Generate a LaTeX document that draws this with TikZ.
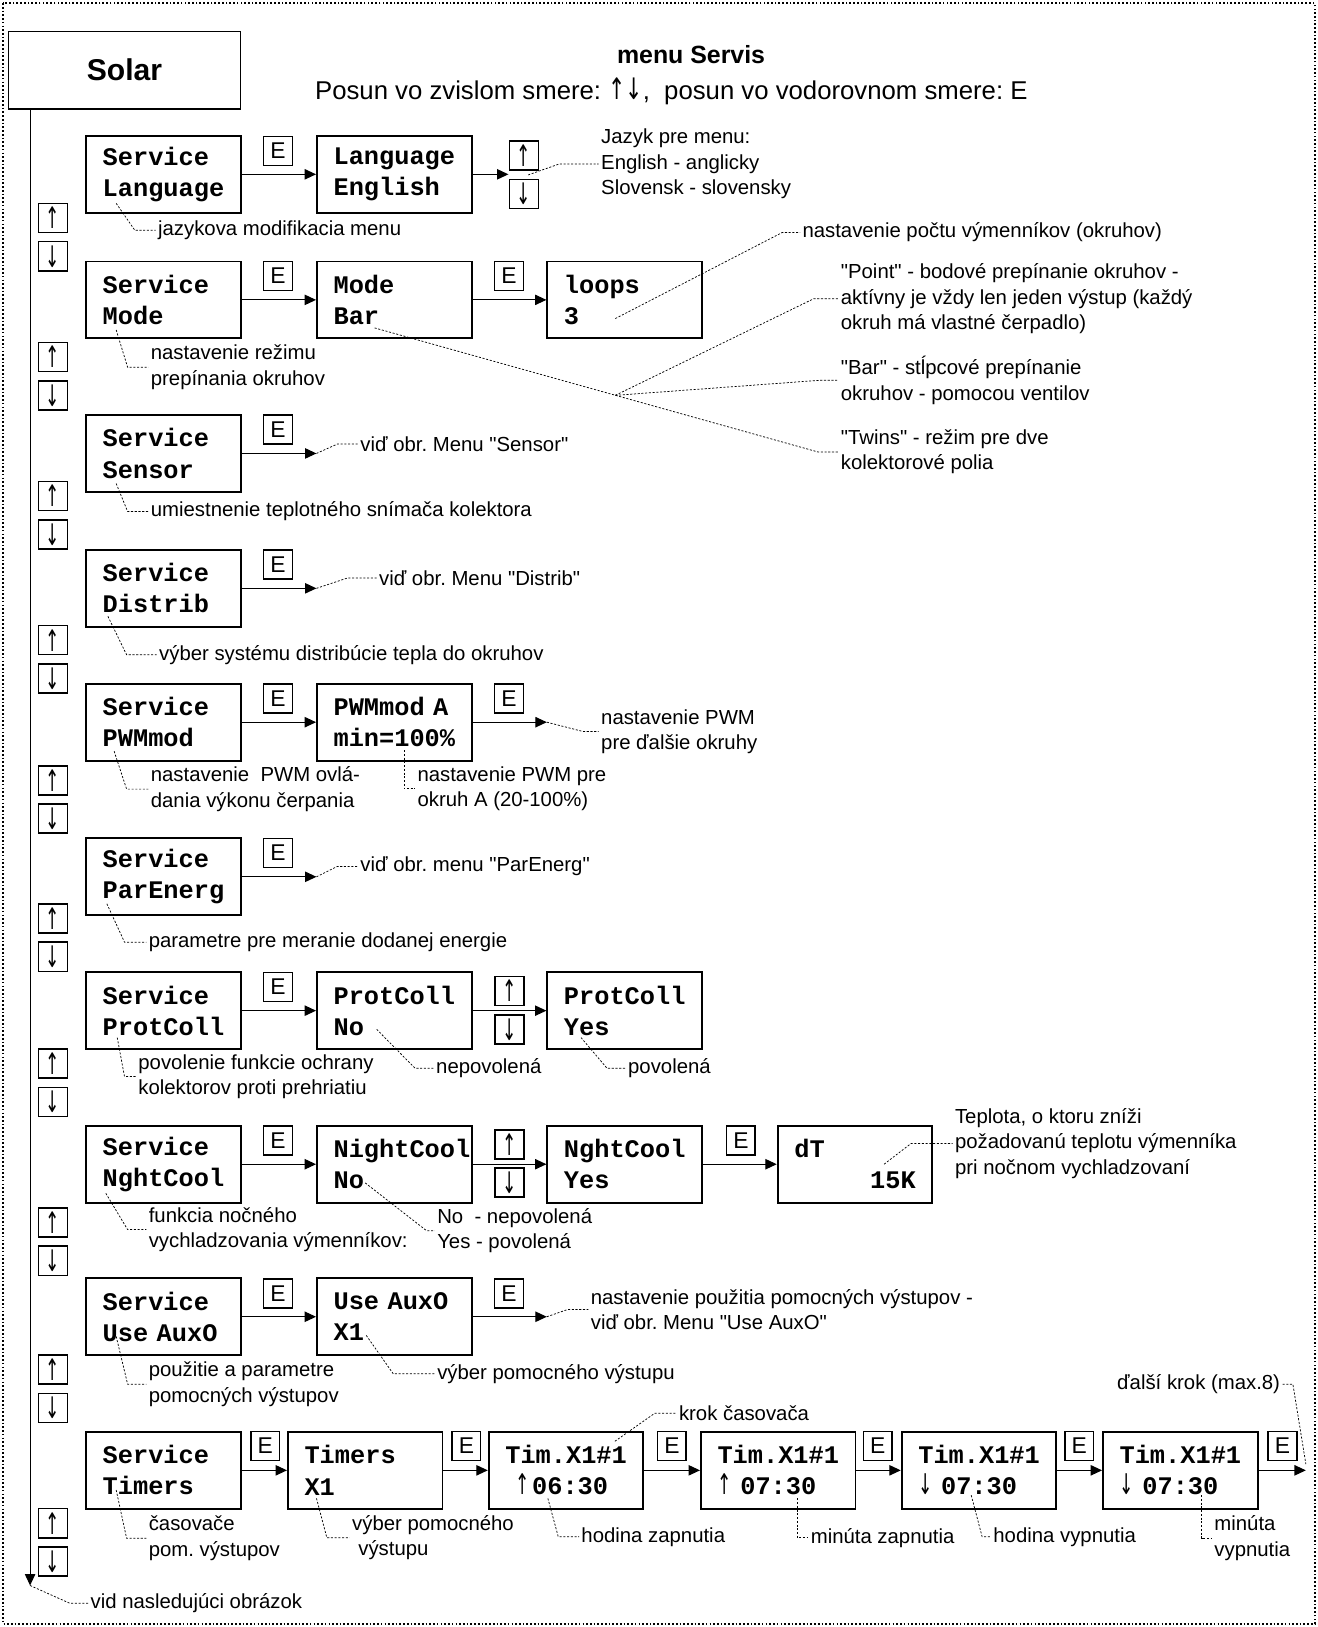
\documentclass[tikz,border=0pt]{standalone}
\usepackage{graphicx}
\usepackage{fontspec}
\setmainfont{Liberation Sans}[Ligatures=TeXOff]
\newfontfamily\lcdfamily{Liberation Mono}
\newfontfamily\arrowfamily{DejaVu Sans}
\usetikzlibrary{arrows.meta}
\frenchspacing

\newcommand{\notefont}{\fontsize{9.8}{12.25}\selectfont}
\newcommand{\lcdfont}{\lcdfamily\bfseries\fontsize{12.2}{15}\selectfont}
\newcommand{\keyup}{{\arrowfamily\scalebox{0.75}[1.3]{↑}}}
\newcommand{\keydown}{{\arrowfamily\scalebox{0.75}[1.3]{↓}}}
\newcommand{\tmup}{{\arrowfamily\mdseries\fontsize{11}{15}\selectfont\scalebox{0.75}[1.25]{↑}}}
\newcommand{\tmdown}{{\arrowfamily\mdseries\fontsize{11}{15}\selectfont\scalebox{0.75}[1.25]{↓}}}

\tikzset{
  menubox/.style={draw, line width=0.9pt, minimum width=74.5pt, minimum height=37pt,
    text width=58.5pt, inner xsep=8pt, inner ysep=0pt, align=left, font=\lcdfont},
  keybox/.style={draw, line width=0.7pt, minimum width=13.8pt, minimum height=14pt,
    inner sep=0pt, font=\fontsize{11}{11}\selectfont},
  note/.style={anchor=west, align=left, inner sep=1pt, font=\notefont},
  lead/.style={line width=0.35pt, dash pattern=on 1pt off 0.8pt},
  flow/.style={line width=0.55pt, -{Triangle[length=5.5pt,width=5pt]}},
}

\begin{document}
\begin{tikzpicture}[x=0.5pt,y=-0.5pt]
\useasboundingbox (0,0) rectangle (1270,1568);
\draw[densely dotted, line width=0.8pt] (3,3) rectangle (1267,1565);

% header
\node[draw, line width=0.6pt, minimum width=112pt, minimum height=37.5pt,
  font=\bfseries\fontsize{14.5}{17}\selectfont] (solar) at (120,67.5) {Solar};
\node[font=\bfseries\fontsize{12}{14}\selectfont] (title) at (666,53) {menu Servis};
\node[font=\fontsize{12.4}{14}\selectfont] (hint) at (647,88)
  {Posun vo zvislom smere: {\arrowfamily\scalebox{0.8}[1.15]{↑↓}},\ \ posun vo vodorovnom smere: E};

% spine
\coordinate (spine) at (29,1528);
\draw[flow] (solar.south -| spine) -- (spine);
\foreach \y [count=\i] in {210,344,478,617,752,885,1025,1178,1320,1468} {
  \node[keybox] (up\i) at (51,\y) {\keyup};
  \node[keybox] (dn\i) at (51,\y+37) {\keydown};
}
\node[note] (follow) at (85,1545) {vid nasledujúci obrázok};
\draw[lead] (spine) -- ([xshift=-9pt]follow.west) -- (follow.west);

% Language
\node[menubox] (lang) at (157.5,168) {Service\\Language};
\node[menubox] (langval) at (380,168) {Language\\English};
\node[keybox] (langE) at (268,145.5) {E};
\node[keybox] (langup) at (505,150) {\keyup};
\node[keybox] (langdn) at (505,187) {\keydown};
\coordinate (langend) at (490,168);
\draw[flow] (lang) -- (langval);
\draw[flow] (langval) -- (langend);
\node[note] (langnote) at (150,222) {jazykova modifikacia menu};
\coordinate (langp) at (112,196);
\draw[lead] (langp) -- ([xshift=-10pt]langnote.west) -- (langnote.west);
\node[note] (langlist) at (577,158) {Jazyk pre menu:\\English - anglicky\\Slovensk - slovensky};
\coordinate (langq) at (509,168.6);
\draw[lead] (langq) -- ([xshift=-19pt]langlist.west) -- (langlist.west);

% Mode
\node[menubox] (mode) at (157.5,289) {Service\\Mode};
\node[menubox] (modeval) at (380,289) {Mode\\Bar};
\node[menubox] (loops) at (602,289) {loops\\3};
\node[keybox] (modeE) at (268,266) {E};
\node[keybox] (modeE2) at (490.5,266) {E};
\draw[flow] (mode) -- (modeval);
\draw[flow] (modeval) -- (loops);
\node[note] (modenote) at (143,354) {nastavenie režimu\\prepínania okruhov};
\coordinate (modep) at (112,318);
\draw[lead] (modep) -- ([xshift=-10pt]modenote.west) -- (modenote.west);
\node[note] (loopsnote) at (771,224) {nastavenie počtu výmenníkov (okruhov)};
\coordinate (loopsp) at (593,307);
\draw[lead] (loopsp) -- ([xshift=-8.5pt]loopsnote.west) -- (loopsnote.west);
\node[note] (pointnote) at (808,288) {"Point" - bodové prepínanie okruhov -\\aktívny je vždy len jeden výstup (každý\\okruh má vlastné čerpadlo)};
\node[note] (barnote) at (808,366.5) {"Bar" - stĺpcové prepínanie\\okruhov - pomocou ventilov};
\node[note] (twinsnote) at (808,435.5) {"Twins" - režim pre dve\\kolektorové polia};
\coordinate (barp) at (361,316);
\coordinate (fan) at (593,381);
\draw[lead] (barp) -- ([xshift=-10pt]twinsnote.west) -- (twinsnote.west);
\draw[lead] (fan) -- ([xshift=-12pt]pointnote.west) -- (pointnote.west);
\draw[lead] (fan) -- ([xshift=-9pt]barnote.west) -- (barnote.west);

% Sensor
\node[menubox] (sensor) at (157.5,437) {Service\\Sensor};
\node[keybox] (sensorE) at (268,414) {E};
\coordinate (sensorend) at (305,437);
\draw[flow] (sensor) -- (sensorend);
\node[note] (sensorref) at (345,428) {viď obr. Menu "Sensor"};
\draw[lead] (sensorend) -- ([xshift=-10pt]sensorref.west) -- (sensorref.west);
\node[note] (sensornote) at (143,493) {umiestnenie teplotného snímača kolektora};
\coordinate (sensorp) at (112,466);
\draw[lead] (sensorp) -- ([xshift=-10pt]sensornote.west) -- (sensornote.west);

% Distrib
\node[menubox] (distrib) at (157.5,567) {Service\\Distrib};
\node[keybox] (distribE) at (268,544) {E};
\coordinate (distribend) at (305,567);
\draw[flow] (distrib) -- (distribend);
\node[note] (distribref) at (363,557) {viď obr. Menu "Distrib"};
\draw[lead] (distribend) -- ([xshift=-14pt]distribref.west) -- (distribref.west);
\node[note] (distribnote) at (151,631) {výber systému distribúcie tepla do okruhov};
\coordinate (distribp) at (104,594);
\draw[lead] (distribp) -- ([xshift=-14.5pt]distribnote.west) -- (distribnote.west);

% PWMmod
\node[menubox] (pwm) at (157.5,696) {Service\\PWMmod};
\node[menubox] (pwmval) at (380,696) {PWMmod A\\min=100\%};
\node[keybox] (pwmE) at (268,673) {E};
\node[keybox] (pwmE2) at (490.5,673) {E};
\coordinate (pwmend) at (527,696);
\draw[flow] (pwm) -- (pwmval);
\draw[flow] (pwmval) -- (pwmend);
\node[note] (pwmnext) at (577,705) {nastavenie PWM\\pre ďalšie okruhy};
\draw[lead] (pwmend) -- ([xshift=-7.5pt]pwmnext.west) -- (pwmnext.west);
\node[note] (pwmnote) at (143,760.5) {nastavenie\ \ PWM ovlá-\\dania výkonu čerpania};
\coordinate (pwmp) at (110,724);
\draw[lead] (pwmp) -- ([xshift=-10.5pt]pwmnote.west) -- (pwmnote.west);
\node[note] (pwmvalnote) at (400,760) {nastavenie PWM pre\\okruh A (20-100\%)};
\coordinate (pwmvalp) at (389.5,723);
\draw[lead] (pwmvalp) -- ([xshift=-5.25pt]pwmvalnote.west) -- (pwmvalnote.west);

% ParEnerg
\node[menubox] (parenerg) at (157.5,845) {Service\\ParEnerg};
\node[keybox] (parenergE) at (268,822) {E};
\coordinate (parenergend) at (305,845);
\draw[flow] (parenerg) -- (parenergend);
\node[note] (parenergref) at (345,835) {viď obr. menu "ParEnerg"};
\draw[lead] (parenergend) -- ([xshift=-10pt]parenergref.west) -- (parenergref.west);
\node[note] (parenergnote) at (141,908) {parametre pre meranie dodanej energie};
\coordinate (parenergp) at (103,871);
\draw[lead] (parenergp) -- ([xshift=-10.5pt]parenergnote.west) -- (parenergnote.west);

% ProtColl
\node[menubox] (prot) at (157.5,974) {Service\\ProtColl};
\node[menubox] (protno) at (380,974) {ProtColl\\No};
\node[menubox] (protyes) at (602,974) {ProtColl\\Yes};
\node[keybox] (protE) at (268,951) {E};
\node[keybox] (protup) at (491,955) {\keyup};
\node[keybox] (protdn) at (491,992) {\keydown};
\draw[flow] (prot) -- (protno);
\draw[flow] (protno) -- (protyes);
\node[note] (protnote) at (131,1037.5) {povolenie funkcie ochrany\\kolektorov proti prehriatiu};
\coordinate (protp) at (113,1000);
\draw[lead] (protp) -- ([xshift=-5.5pt]protnote.west) -- (protnote.west);
\node[note] (protnonote) at (418,1029.5) {nepovolená};
\coordinate (protnop) at (363,992);
\draw[lead] (protnop) -- ([xshift=-9pt]protnonote.west) -- (protnonote.west);
\node[note] (protyesnote) at (603,1029.5) {povolená};
\coordinate (protyesp) at (560,1000);
\draw[lead] (protyesp) -- ([xshift=-9pt]protyesnote.west) -- (protyesnote.west);

% NghtCool
\node[menubox] (night) at (157.5,1122) {Service\\NghtCool};
\node[menubox] (nightno) at (380,1122) {NightCool\\No};
\node[menubox] (nightyes) at (602,1122) {NghtCool\\Yes};
\node[menubox] (dt) at (824,1122) {dT\\\hfill 15K};
\node[keybox] (nightE) at (268,1099) {E};
\node[keybox] (nightup) at (491,1103) {\keyup};
\node[keybox] (nightdn) at (491,1139.5) {\keydown};
\node[keybox] (nightE3) at (714,1099) {E};
\draw[flow] (night) -- (nightno);
\draw[flow] (nightno) -- (nightyes);
\draw[flow] (nightyes) -- (dt);
\node[note] (nightnote) at (141,1185) {funkcia nočného\\vychladzovania výmenníkov:};
\coordinate (nightp) at (102,1150);
\draw[lead] (nightp) -- ([xshift=-9pt]nightnote.west) -- (nightnote.west);
\node[note] (nightnonote) at (419,1186) {No\ \ - nepovolená\\Yes - povolená};
\coordinate (nightnop) at (352,1140);
\draw[lead] (nightnop) -- ([xshift=-4pt]nightnonote.west) -- (nightnonote.west);
\node[note] (dtnote) at (918,1102) {Teplota, o ktoru zníži\\požadovanú teplotu výmenníka\\pri nočnom vychladzovaní};
\coordinate (dtp) at (852,1122);
\draw[lead] (dtp) -- ([xshift=-20pt]dtnote.west) -- (dtnote.west);

% Use AuxO
\node[menubox] (aux) at (157.5,1269) {Service\\Use AuxO};
\node[menubox] (auxval) at (380,1269) {Use AuxO\\X1};
\node[keybox] (auxE) at (268,1246.5) {E};
\node[keybox] (auxE2) at (490.5,1246.5) {E};
\coordinate (auxend) at (527,1269);
\draw[flow] (aux) -- (auxval);
\draw[flow] (auxval) -- (auxend);
\node[note] (auxref) at (567,1262) {nastavenie použitia pomocných výstupov -\\viď obr. Menu "Use AuxO"};
\draw[lead] (auxend) -- ([xshift=-10pt]auxref.west) -- (auxref.west);
\node[note] (auxnote) at (141,1334) {použitie a parametre\\pomocných výstupov};
\coordinate (auxp) at (112,1288);
\draw[lead] (auxp) -- ([xshift=-9pt]auxnote.west) -- (auxnote.west);
\node[note] (auxvalnote) at (419,1324) {výber pomocného výstupu};
\coordinate (auxvalp) at (353,1287);
\draw[lead] (auxvalp) -- ([xshift=-20pt]auxvalnote.west) -- (auxvalnote.west);

% Timers
\node[menubox] (tim) at (157.5,1417) {Service\\Timers};
\node[menubox] (timx) at (352,1417) {Timers\\X1};
\node[menubox] (t1) at (545.5,1417) {Tim.X1\#1\\\hspace*{5pt}\tmup\hspace{1pt}06:30};
\node[menubox] (t2) at (750,1417) {Tim.X1\#1\\\tmup\ 07:30};
\node[menubox] (t3) at (943.5,1417) {Tim.X1\#1\\\tmdown\ 07:30};
\node[menubox] (t4) at (1137.5,1417) {Tim.X1\#1\\\tmdown\ 07:30};
\foreach \x [count=\i] in {255.5,449.5,647.5,846,1040,1236}
  \node[keybox] (timE\i) at (\x,1393.5) {E};
\coordinate (timend) at (1258.5,1417);
\draw[flow] (tim) -- (timx);
\draw[flow] (timx) -- (t1);
\draw[flow] (t1) -- (t2);
\draw[flow] (t2) -- (t3);
\draw[flow] (t3) -- (t4);
\draw[flow] (t4) -- (timend);
\node[note] (timnote) at (141,1482.5) {časovače\\pom. výstupov};
\coordinate (timp) at (112,1436);
\draw[lead] (timp) -- ([xshift=-9.5pt]timnote.west) -- (timnote.west);
\node[note] (timxnote) at (337,1482) {výber pomocného\\\hspace*{3pt}výstupu};
\coordinate (timxp) at (305,1444);
\draw[lead] (timxp) -- ([xshift=-11pt]timxnote.west) -- (timxnote.west);
\node[note] (stepnote) at (652,1362) {krok časovača};
\coordinate (stepp) at (592.6,1389);
\draw[lead] (stepp) -- ([xshift=-10.5pt]stepnote.west) -- (stepnote.west);
\node[note] (t1note) at (558,1481) {hodina zapnutia};
\coordinate (t1p) at (528,1444);
\draw[lead] (t1p) -- ([xshift=-10pt]t1note.west) -- (t1note.west);
\node[note] (t2note) at (779,1482) {minúta zapnutia};
\coordinate (t2p) at (768.5,1444);
\draw[lead] (t2p) -- ([xshift=-5.25pt]t2note.west) -- (t2note.west);
\node[note] (t3note) at (955,1481) {hodina vypnutia};
\coordinate (t3p) at (936,1441);
\draw[lead] (t3p) -- ([xshift=-4.25pt]t3note.west) -- (t3note.west);
\node[note] (t4note) at (1168,1482.5) {minúta\\vypnutia};
\coordinate (t4p) at (1158,1441);
\draw[lead] (t4p) -- ([xshift=-5pt]t4note.west) -- (t4note.west);
\node[note, anchor=east] (nextnote) at (1236,1334) {ďalší krok (max.8)};
\coordinate (nextp) at (1258.5,1411);
\draw[lead] (nextnote.east) -- ([xshift=5pt]nextnote.east) -- (nextp);
\end{tikzpicture}
\end{document}
